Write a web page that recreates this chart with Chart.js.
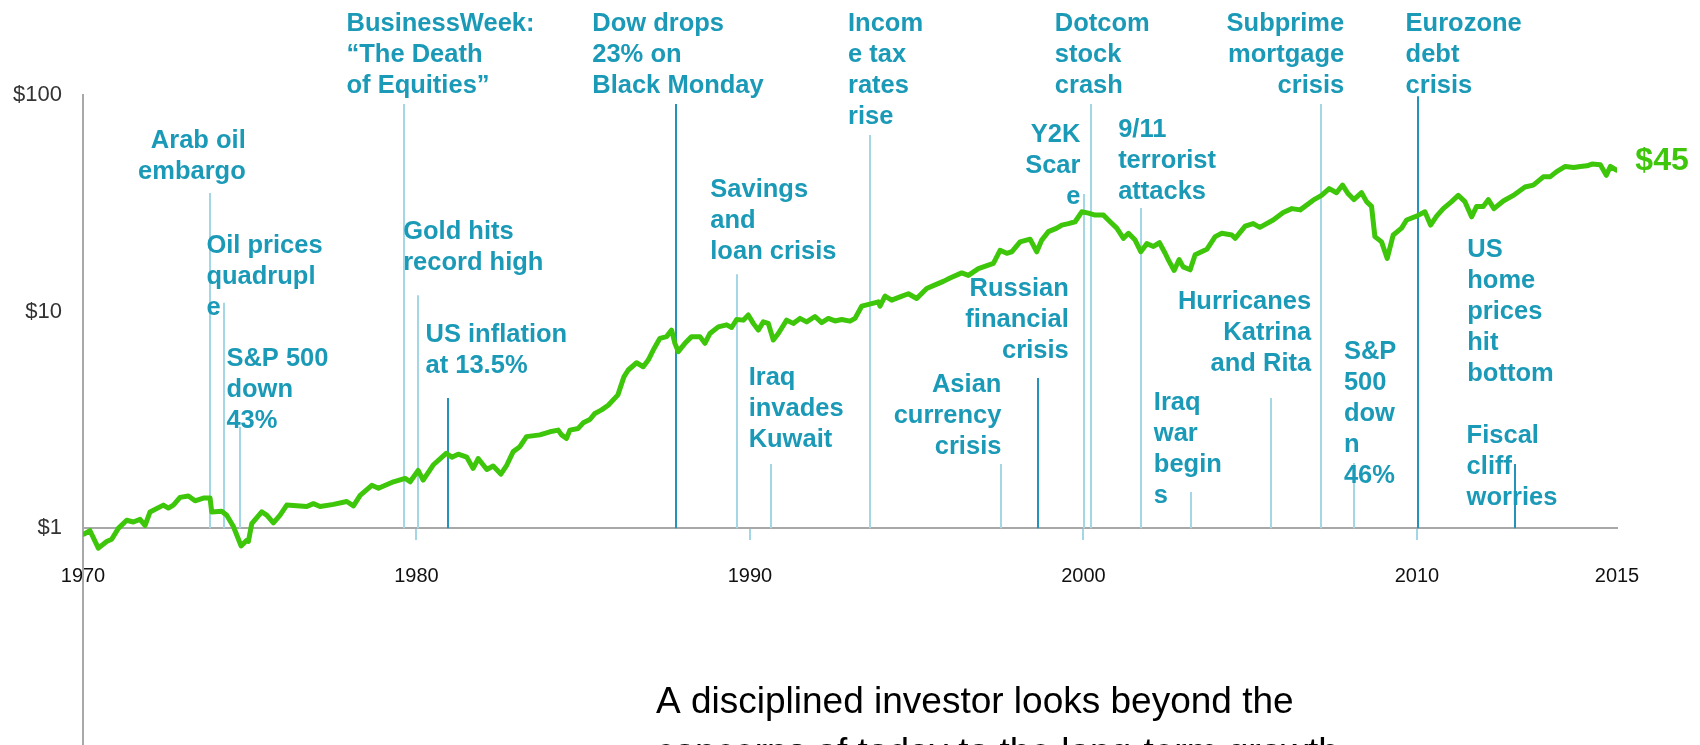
<!DOCTYPE html>
<html>
<head>
<meta charset="utf-8">
<script src="https://cdn.jsdelivr.net/npm/chart.js@4.4.1/dist/chart.umd.min.js"></script>
<style>
  html, body { margin: 0; padding: 0; background: #fff; }
  #chart { display: block; }
</style>
</head>
<body>
<canvas id="chart" width="1700" height="745"></canvas>
<script>
// growth of $1
const years = [1970.03, 1970.21, 1970.46, 1970.71, 1970.86, 1971.06, 1971.31, 1971.51, 1971.71, 1971.86,
    1972.01, 1972.41, 1972.56, 1972.71, 1972.91, 1973.16, 1973.36, 1973.61, 1973.81, 1973.86,
    1974.16, 1974.31, 1974.51, 1974.74, 1974.91, 1974.96, 1975.06, 1975.36, 1975.51, 1975.71,
    1975.91, 1976.11, 1976.41, 1976.71, 1976.91, 1977.11, 1977.51, 1977.91, 1978.11, 1978.31,
    1978.66, 1978.86, 1979.31, 1979.66, 1979.81, 1980.05, 1980.20, 1980.50, 1980.89, 1981.06,
    1981.25, 1981.51, 1981.70, 1981.85, 1982.11, 1982.30, 1982.53, 1982.71, 1982.90, 1983.10,
    1983.30, 1983.70, 1984.00, 1984.25, 1984.35, 1984.50, 1984.60, 1984.85, 1985.00, 1985.20,
    1985.35, 1985.55, 1985.75, 1986.04, 1986.22, 1986.35, 1986.60, 1986.80, 1986.95, 1987.10,
    1987.30, 1987.50, 1987.65, 1987.75, 1987.85, 1988.05, 1988.25, 1988.50, 1988.65, 1988.80,
    1989.05, 1989.30, 1989.45, 1989.60, 1989.80, 1989.95, 1990.10, 1990.25, 1990.40, 1990.55,
    1990.70, 1990.85, 1991.10, 1991.30, 1991.50, 1991.70, 1991.95, 1992.15, 1992.35, 1992.55,
    1992.75, 1993.00, 1993.15, 1993.35, 1993.65, 1993.85, 1993.90, 1994.05, 1994.25, 1994.50,
    1994.75, 1995.00, 1995.30, 1995.55, 1995.80, 1996.00, 1996.35, 1996.55, 1996.85, 1997.15,
    1997.30, 1997.50, 1997.70, 1997.85, 1998.10, 1998.40, 1998.60, 1998.75, 1998.95, 1999.20,
    1999.35, 1999.55, 1999.75, 1999.95, 2000.15, 2000.35, 2000.60, 2000.80, 2001.00, 2001.20,
    2001.35, 2001.55, 2001.72, 2001.90, 2002.10, 2002.28, 2002.45, 2002.55, 2002.72, 2002.87,
    2002.99, 2003.20, 2003.35, 2003.70, 2003.95, 2004.15, 2004.45, 2004.55, 2004.85, 2005.09,
    2005.29, 2005.69, 2005.99, 2006.25, 2006.50, 2006.89, 2007.14, 2007.37, 2007.59, 2007.77,
    2007.94, 2008.11, 2008.34, 2008.49, 2008.64, 2008.74, 2008.94, 2009.11, 2009.29, 2009.54,
    2009.69, 2009.99, 2010.24, 2010.41, 2010.59, 2010.79, 2011.04, 2011.24, 2011.44, 2011.64,
    2011.79, 2011.99, 2012.14, 2012.31, 2012.59, 2012.89, 2013.24, 2013.49, 2013.79, 2013.99,
    2014.19, 2014.45, 2014.70, 2014.90, 2015.10, 2015.25, 2015.50, 2015.68, 2015.80, 2015.98];
const values = [0.94, 0.975, 0.81, 0.87, 0.89, 1.00, 1.09, 1.07, 1.10, 1.03,
    1.19, 1.28, 1.24, 1.28, 1.39, 1.41, 1.34, 1.38, 1.38, 1.19,
    1.20, 1.15, 1.02, 0.83, 0.88, 0.87, 1.05, 1.19, 1.15, 1.06,
    1.15, 1.28, 1.27, 1.26, 1.30, 1.26, 1.29, 1.33, 1.27, 1.42,
    1.58, 1.53, 1.64, 1.70, 1.64, 1.85, 1.67, 1.96, 2.22, 2.13,
    2.20, 2.13, 1.89, 2.10, 1.87, 1.94, 1.78, 1.96, 2.26, 2.38,
    2.65, 2.70, 2.79, 2.84, 2.70, 2.60, 2.84, 2.89, 3.07, 3.18,
    3.39, 3.52, 3.70, 4.13, 5.00, 5.38, 5.81, 5.57, 5.98, 6.65,
    7.53, 7.67, 8.22, 7.14, 6.54, 7.14, 7.67, 7.67, 7.14, 7.93,
    8.51, 8.69, 8.45, 9.20, 9.14, 9.65, 8.83, 8.22, 8.97, 8.83,
    7.40, 7.93, 9.14, 8.83, 9.31, 8.97, 9.50, 8.90, 9.31, 9.06,
    9.20, 9.04, 9.31, 10.6, 10.9, 11.1, 10.6, 11.8, 11.3, 11.7,
    12.1, 11.5, 12.8, 13.3, 13.8, 14.3, 15.1, 14.7, 15.8, 16.4,
    16.7, 19.2, 18.6, 18.9, 21.0, 21.6, 18.9, 21.4, 23.4, 24.3,
    25.1, 25.5, 26.0, 28.9, 28.5, 27.9, 27.9, 26.0, 24.3, 21.8,
    23.0, 21.4, 18.9, 20.6, 20.0, 20.8, 18.6, 17.3, 15.5, 17.4,
    16.1, 15.6, 18.3, 19.4, 22.2, 23.0, 22.6, 21.8, 24.8, 25.5,
    24.5, 26.5, 28.7, 29.9, 29.5, 32.7, 34.4, 37.0, 35.4, 38.4,
    35.0, 32.9, 35.4, 32.2, 30.6, 22.2, 21.0, 17.6, 22.6, 24.3,
    26.5, 27.6, 28.9, 25.1, 27.6, 29.9, 32.2, 34.4, 32.2, 27.4,
    30.6, 30.6, 32.9, 29.9, 32.4, 34.4, 37.6, 38.4, 41.9, 41.9,
    44.3, 46.8, 46.3, 46.8, 47.1, 48.0, 47.6, 42.6, 46.8, 45.0];

const xTicks = [1970, 1980, 1990, 2000, 2010, 2016];
const xTickLabels = ['1970', '1980', '1990', '2000', '2010', '2015'];
const yTicks = [1, 10, 100];

const eventYears = [1973.80, 1974.24, 1974.72, 1979.64, 1980.05, 1980.96, 1987.79, 1989.62, 1990.62, 1993.60,
    1997.54, 1998.63, 2000.03, 2000.22, 2001.73, 2003.22, 2005.63, 2007.13, 2008.11, 2010.02,
    2011.51, 2012.93];
const eventNames = [
    'Arab oil\nembargo',
    'Oil prices\nquadrupl\ne',
    'S&P 500\ndown\n43%',
    'BusinessWeek:\n\u201cThe Death\nof Equities\u201d',
    'Gold hits\nrecord high',
    'US inflation\nat 13.5%',
    'Dow drops\n23% on\nBlack Monday',
    'Savings\nand\nloan crisis',
    'Iraq\ninvades\nKuwait',
    'Incom\ne tax\nrates\nrise',
    'Asian\ncurrency\ncrisis',
    'Russian\nfinancial\ncrisis',
    'Y2K\nScar\ne',
    'Dotcom\nstock\ncrash',
    '9/11\nterrorist\nattacks',
    'Iraq\nwar\nbegin\ns',
    'Hurricanes\nKatrina\nand Rita',
    'Subprime\nmortgage\ncrisis',
    'S&P\n500\ndow\nn\n46%',
    'Eurozone\ndebt\ncrisis',
    'US\nhome\nprices\nhit\nbottom',
    'Fiscal\ncliff\nworries'
];

// where each marker line starts (on the $ axis), text offset from the line, first baseline, alignment
const eventLayout = [
    { top: 35.3, dx: 36, y: 148, align: 'right', dark: false },
    { top: 11.0, dx: -18, y: 253, align: 'left', dark: false },
    { top: 2.94, dx: -14, y: 366, align: 'left', dark: false },
    { top: 90.9, dx: -58, y: 31, align: 'left', dark: false },
    { top: 11.9, dx: -15, y: 239, align: 'left', dark: false },
    { top: 4.0, dx: -23, y: 342, align: 'left', dark: true },
    { top: 90.9, dx: -84, y: 31, align: 'left', dark: true },
    { top: 14.9, dx: -27, y: 197, align: 'left', dark: false },
    { top: 1.98, dx: -22, y: 385, align: 'left', dark: false },
    { top: 65.4, dx: -22, y: 31, align: 'left', dark: false },
    { top: 1.98, dx: 0, y: 392, align: 'right', dark: false },
    { top: 4.94, dx: 31, y: 296, align: 'right', dark: true },
    { top: 34.9, dx: -4, y: 142, align: 'right', dark: false },
    { top: 90.9, dx: -36, y: 31, align: 'left', dark: false },
    { top: 30.1, dx: -23, y: 137, align: 'left', dark: false },
    { top: 1.47, dx: -37, y: 410, align: 'left', dark: false },
    { top: 4.0, dx: 40, y: 309, align: 'right', dark: false },
    { top: 90.9, dx: 23, y: 31, align: 'right', dark: false },
    { top: 2.0, dx: -10, y: 359, align: 'left', dark: false },
    { top: 98.8, dx: -12, y: 31, align: 'left', dark: true },
    { top: null, dx: 0, y: 257, align: 'left', dark: false },
    { top: 1.98, dx: -48, y: 443, align: 'left', dark: true }
];

const caption = ['A disciplined investor looks beyond the', 'concerns of today to the long-term growth'];

const green = '#3dc60a';
const teal = '#1b9ab8';
const lightLine = '#a3d7e6';
const darkLine = '#2492ba';
const axisGrey = '#a8a8a8';
const fontFamily = '"Liberation Sans", Arial, sans-serif';

const points = years.map((yr, i) => ({ x: yr, y: values[i] }));

const eventPlugin = {
    id: 'events',
    beforeDatasetsDraw(chart) {
        const { ctx, scales: { x, y } } = chart;
        const base = y.getPixelForValue(1);
        ctx.save();
        ctx.lineWidth = 2;
        eventYears.forEach((yr, i) => {
            const lay = eventLayout[i];
            if (lay.top == null) return;
            const px = Math.round(x.getPixelForValue(yr));
            ctx.strokeStyle = lay.dark ? darkLine : lightLine;
            ctx.beginPath();
            ctx.moveTo(px, y.getPixelForValue(lay.top));
            ctx.lineTo(px, base);
            ctx.stroke();
        });
        ctx.restore();
    },
    afterDatasetsDraw(chart) {
        const { ctx, scales: { x, y } } = chart;
        ctx.save();
        ctx.fillStyle = teal;
        ctx.font = 'bold 25.5px ' + fontFamily;
        ctx.textBaseline = 'alphabetic';
        eventYears.forEach((yr, i) => {
            const lay = eventLayout[i];
            const px = x.getPixelForValue(yr) + lay.dx;
            ctx.textAlign = lay.align;
            eventNames[i].split('\n').forEach((line, j) => {
                ctx.fillText(line, px, lay.y + j * 31);
            });
        });

        // end value next to the last point
        const last = points[points.length - 1];
        ctx.fillStyle = green;
        ctx.font = 'bold 32px ' + fontFamily;
        ctx.textAlign = 'left';
        ctx.fillText('$' + Math.round(last.y), x.getPixelForValue(last.x) + 19, y.getPixelForValue(last.y));

        ctx.fillStyle = '#000';
        ctx.font = '37px ' + fontFamily;
        caption.forEach((line, j) => ctx.fillText(line, 656, 713 + j * 51));
        ctx.restore();
    }
};

new Chart(document.getElementById('chart'), {
    type: 'line',
    data: {
        datasets: [{
            data: points,
            borderColor: green,
            borderWidth: 5,
            borderJoinStyle: 'round',
            borderCapStyle: 'round',
            pointRadius: 0,
            tension: 0,
            fill: false
        }]
    },
    options: {
        responsive: false,
        animation: false,
        devicePixelRatio: 1,
        layout: { padding: { top: 95, right: 83, bottom: 0, left: 0 } },
        plugins: { legend: { display: false }, tooltip: { enabled: false } },
        scales: {
            x: {
                type: 'linear',
                min: 1970,
                max: 2016,
                position: { y: 1 },
                afterBuildTicks: s => { s.ticks = xTicks.map(v => ({ value: v })); },
                afterFit: s => { s.paddingLeft = 0; s.paddingRight = 0; },
                grid: {
                    drawOnChartArea: false,
                    drawTicks: true,
                    tickLength: 11,
                    lineWidth: 2,
                    color: c => (c.index >= 1 && c.index <= 4) ? lightLine : 'rgba(0,0,0,0)'
                },
                border: { display: true, color: axisGrey, width: 2 },
                ticks: {
                    autoSkip: false,
                    maxRotation: 0,
                    padding: 25,
                    color: '#111',
                    font: { family: fontFamily, size: 20 },
                    callback: (v, i) => xTickLabels[i]
                }
            },
            y: {
                type: 'logarithmic',
                min: 0.1,
                max: 100,
                afterBuildTicks: s => { s.ticks = yTicks.map(v => ({ value: v })); },
                afterFit: s => { s.width = 83; s.paddingTop = 0; s.paddingBottom = 0; },
                grid: { display: false, drawTicks: false },
                border: { display: true, color: axisGrey, width: 2 },
                ticks: {
                    padding: 21,
                    color: '#333',
                    font: { family: fontFamily, size: 22 },
                    callback: v => '$' + v
                }
            }
        }
    },
    plugins: [eventPlugin]
});
</script>
</body>
</html>
